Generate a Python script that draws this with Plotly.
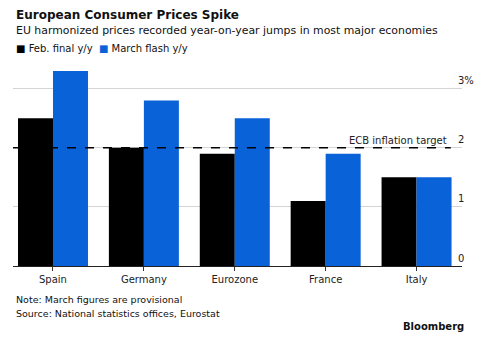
import plotly.graph_objects as go

# Harmonized consumer price inflation, year-on-year, %
countries = ["Spain", "Germany", "Eurozone", "France", "Italy"]
feb_final = [2.5, 2.0, 1.9, 1.1, 1.5]
march_flash = [3.3, 2.8, 2.5, 1.9, 1.5]
ecb_target = 2.0
y_ticks = [0, 1, 2, 3]
y_tick_labels = ["0", "1", "2", "3%"]

BLACK = "#000000"
BLUE = "#0a62d8"
FONT = "DejaVu Sans"

# Plot area in pixels (canvas 485 x 343)
PLOT_LEFT, PLOT_RIGHT = 13, 462
PLOT_TOP, PLOT_BOTTOM = 68, 266

fig = go.Figure()
fig.add_trace(go.Bar(x=countries, y=feb_final, name="Feb. final y/y",
                     marker=dict(color=BLACK, line=dict(width=0))))
fig.add_trace(go.Bar(x=countries, y=march_flash, name="March flash y/y",
                     marker=dict(color=BLUE, line=dict(width=0))))

# ECB target reference line
fig.add_shape(type="line", xref="paper", yref="y", x0=0, x1=0.975,
              y0=ecb_target, y1=ecb_target,
              line=dict(color=BLACK, width=1.5, dash="dash"), layer="above")

annotations = [
    dict(xref="paper", yref="y", x=0.972, y=ecb_target, yshift=7,
         text="ECB inflation target", showarrow=False,
         xanchor="right", yanchor="middle",
         font=dict(family=FONT, size=10, color="#222")),
]

# Right-side value labels sitting just above each gridline
for v, lab in zip(y_ticks, y_tick_labels):
    annotations.append(dict(xref="paper", yref="y", x=0.987, y=v, yshift=8,
                            text=lab, showarrow=False, xanchor="left",
                            yanchor="middle",
                            font=dict(family=FONT, size=10, color="#222")))


def canvas_text(y_px, text, size, x_px=14, anchor="left", bold=False):
    """Text placed by canvas pixel position, converted to paper coordinates."""
    yp = (PLOT_BOTTOM - y_px) / (PLOT_BOTTOM - PLOT_TOP)
    xp = (x_px - PLOT_LEFT) / (PLOT_RIGHT - PLOT_LEFT)
    t = f"<b>{text}</b>" if bold else text
    return dict(xref="paper", yref="paper", x=xp, y=yp, xanchor=anchor,
                yanchor="middle", text=t, showarrow=False,
                font=dict(family=FONT, size=size, color="#111"))


annotations += [
    canvas_text(15, "European Consumer Prices Spike", 12, bold=True),
    canvas_text(30, "EU harmonized prices recorded year-on-year jumps in most major economies", 10.9),
    canvas_text(49, f"<span style='color:{BLACK}'>■</span> Feb. final y/y  "
                    f"<span style='color:{BLUE}'>■</span> March flash y/y", 10),
    canvas_text(299, "Note: March figures are provisional", 9.5),
    canvas_text(313, "Source: National statistics offices, Eurostat", 9.5),
    canvas_text(326, "Bloomberg", 10, x_px=466, anchor="right", bold=True),
]

fig.update_layout(
    width=485, height=343,
    margin=dict(l=PLOT_LEFT, r=485 - PLOT_RIGHT, t=PLOT_TOP, b=343 - PLOT_BOTTOM),
    paper_bgcolor="white", plot_bgcolor="white",
    barmode="group", bargap=0.23, bargroupgap=0,
    showlegend=False,
    font=dict(family=FONT, size=10, color="#222"),
    xaxis=dict(range=[-0.44, 4.5], showgrid=False, ticks="outside",
               ticklen=4, tickcolor="#333", tickfont=dict(size=10, color="#222"),
               showline=False, fixedrange=True),
    yaxis=dict(range=[0, 3.35], tickvals=y_ticks, showticklabels=False,
               showgrid=True, gridcolor="#d4d4d4", gridwidth=1,
               zeroline=True, zerolinecolor="#222", zerolinewidth=1,
               fixedrange=True),
    annotations=annotations,
)

fig.write_html("out.html")
